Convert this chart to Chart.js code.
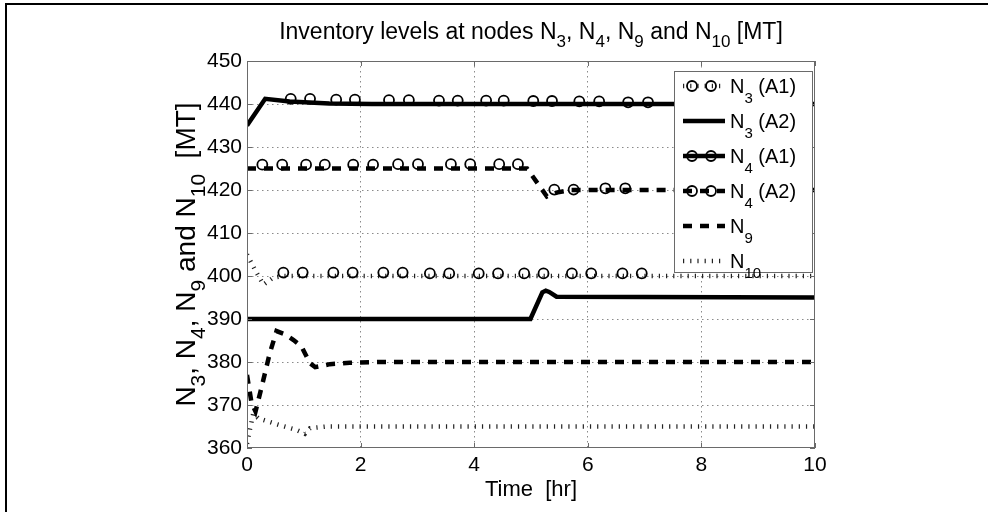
<!DOCTYPE html>
<html>
<head>
<meta charset="utf-8">
<script src="https://cdn.jsdelivr.net/npm/chart.js@4.4.0/dist/chart.umd.min.js"></script>
<style>
  html, body { margin: 0; padding: 0; background: #fff; }
  #wrap { width: 988px; height: 512px; }
</style>
</head>
<body>
<div id="wrap"><canvas id="invChart" width="988" height="512"></canvas></div>
<script>
// values: time [hr], inventory [MT]
const n4A1LineTime = [0, 0.32, 0.75, 1.45, 2.2, 10];
const n4A1LineLevel = [435, 441.2, 440.6, 440.1, 440, 440];
const n4A1MarkTime = [0.77, 1.11, 1.57, 1.90, 2.50, 2.85, 3.38, 3.71, 4.21, 4.52, 5.04, 5.37, 5.85, 6.20, 6.71, 7.06];
const n4A1MarkLevel = [441.2, 441.2, 441.0, 441.0, 440.9, 440.9, 440.8, 440.8, 440.8, 440.8, 440.7, 440.7, 440.6, 440.6, 440.4, 440.4];

const n4A2LineTime = [0, 4.93, 5.28, 5.45, 5.7, 10];
const n4A2LineLevel = [425, 425, 418.5, 419.4, 420, 420];
const n4A2MarkTime = [0.27, 0.62, 1.04, 1.37, 1.87, 2.22, 2.66, 3.01, 3.59, 3.93, 4.44, 4.77, 5.41, 5.75, 6.31, 6.66];
const n4A2MarkLevel = [425.9, 425.9, 425.9, 425.9, 425.9, 425.9, 426, 426, 426, 426, 426, 426, 420.1, 420.1, 420.4, 420.4];

const n3A1LineTime = [0, 0.15, 0.29, 0.46, 0.62, 10];
const n3A1LineLevel = [405, 401.2, 398, 399.6, 400, 400];
const n3A1MarkTime = [0.64, 0.98, 1.52, 1.86, 2.40, 2.74, 3.22, 3.56, 4.08, 4.42, 4.88, 5.22, 5.72, 6.06, 6.61, 6.95];
const n3A1MarkLevel = [400.8, 400.8, 400.8, 400.8, 400.8, 400.8, 400.6, 400.6, 400.6, 400.6, 400.6, 400.6, 400.6, 400.6, 400.6, 400.6];

const n3A2Time = [0, 4.99, 5.20, 5.26, 5.32, 5.45, 10];
const n3A2Level = [390, 390, 396.2, 396.6, 396.3, 395.2, 395];

const n9Time = [0, 0.08, 0.15, 0.26, 0.40, 0.52, 0.66, 0.82, 0.96, 1.11, 1.20, 1.46, 1.81, 2.3, 10];
const n9Level = [377, 370.5, 368.5, 374.3, 382, 387.2, 386.5, 385.1, 383.6, 379.7, 378.8, 379.5, 379.8, 380, 380];

const n10Time = [0, 0.11, 0.2, 0.58, 0.87, 1.02, 1.11, 1.4, 10];
const n10Level = [361, 368, 366.9, 365.3, 364.2, 363.3, 364.6, 365, 365];

const xTicks = [0, 2, 4, 6, 8, 10];
const yTicks = [360, 370, 380, 390, 400, 410, 420, 430, 440, 450];

const chartTitle = 'Inventory levels at nodes N_3, N_4, N_9 and N_{10} [MT]';
const xTitle = 'Time  [hr]';
const yTitle = 'N_3, N_4, N_9 and N_{10}  [MT]';

const FONT = '"Liberation Sans", Arial, sans-serif';
const SOLID = [];
const DASHED = [9, 8];
const DOTTED = [1.2, 6];

function pts(t, v) {
  return t.map((x, i) => ({ x: x, y: v[i] }));
}

function lineSet(label, t, v, dash, width, color) {
  return {
    label: label, data: pts(t, v), borderColor: color || '#000', borderWidth: width,
    borderDash: dash, borderCapStyle: 'butt', pointRadius: 0, tension: 0, fill: false
  };
}

function markSet(label, t, v) {
  return {
    label: label, data: pts(t, v), showLine: false, pointStyle: 'circle',
    pointRadius: 5, pointBorderWidth: 1.8, pointBorderColor: '#000',
    pointBackgroundColor: 'rgba(0,0,0,0)', borderColor: '#000'
  };
}

const datasets = [
  markSet('N4 (A1) marks', n4A1MarkTime, n4A1MarkLevel),
  lineSet('N4 (A1)', n4A1LineTime, n4A1LineLevel, SOLID, 4.5),
  markSet('N4 (A2) marks', n4A2MarkTime, n4A2MarkLevel),
  lineSet('N4 (A2)', n4A2LineTime, n4A2LineLevel, DASHED, 4.5),
  markSet('N3 (A1) marks', n3A1MarkTime, n3A1MarkLevel),
  lineSet('N3 (A1)', n3A1LineTime, n3A1LineLevel, DOTTED, 4.5, '#222'),
  lineSet('N3 (A2)', n3A2Time, n3A2Level, SOLID, 4.5),
  lineSet('N9', n9Time, n9Level, DASHED, 4.5),
  lineSet('N10', n10Time, n10Level, DOTTED, 4.5, '#222')
];

// legend rows: text, line dataset, marker dataset (or null)
const legendRows = [
  { text: 'N_3 (A1)', line: 5, mark: 4 },
  { text: 'N_3 (A2)', line: 6, mark: null },
  { text: 'N_4 (A1)', line: 1, mark: 0 },
  { text: 'N_4 (A2)', line: 3, mark: 2 },
  { text: 'N_9', line: 7, mark: null },
  { text: 'N_{10}', line: 8, mark: null }
];

// tiny TeX-ish subscript support: N_3, N_{10}
function splitTex(str) {
  const parts = [];
  const re = /_\{([^}]*)\}|_(.)/g;
  let last = 0, m;
  while ((m = re.exec(str))) {
    if (m.index > last) parts.push({ t: str.slice(last, m.index), sub: false });
    parts.push({ t: m[1] !== undefined ? m[1] : m[2], sub: true });
    last = re.lastIndex;
  }
  if (last < str.length) parts.push({ t: str.slice(last), sub: false });
  return parts;
}

function drawTex(ctx, str, x, y, size, align, subDrop) {
  const parts = splitTex(str);
  const subSize = Math.round(size * 0.74);
  let w = 0;
  parts.forEach(p => {
    ctx.font = (p.sub ? subSize : size) + 'px ' + FONT;
    p.w = ctx.measureText(p.t).width;
    w += p.w;
  });
  let cx = align === 'left' ? x : x - w / 2;
  ctx.textAlign = 'left';
  ctx.textBaseline = 'alphabetic';
  ctx.fillStyle = '#000';
  parts.forEach(p => {
    ctx.font = (p.sub ? subSize : size) + 'px ' + FONT;
    ctx.fillText(p.t, cx, p.sub ? y + size * subDrop : y);
    cx += p.w;
  });
}

const figurePlugin = {
  id: 'figure',
  beforeDraw(chart) {
    const ctx = chart.ctx;
    ctx.save();
    ctx.fillStyle = '#fff';
    ctx.fillRect(0, 0, chart.width, chart.height);
    // figure frame (top and left edges only)
    ctx.fillStyle = '#000';
    ctx.fillRect(5, 3, chart.width - 5, 2);
    ctx.fillRect(5, 3, 2, chart.height - 3);
    ctx.restore();
  },
  afterDraw(chart) {
    const ctx = chart.ctx;
    const a = chart.chartArea;
    const xs = chart.scales.x, ys = chart.scales.y;
    ctx.save();
    // axes box with inward ticks
    ctx.strokeStyle = '#6a6a6a';
    ctx.lineWidth = 1;
    ctx.strokeRect(a.left + 0.5, a.top + 0.5, a.right - a.left - 1, a.bottom - a.top - 1);
    ctx.beginPath();
    xTicks.forEach(t => {
      const px = Math.round(xs.getPixelForValue(t)) + 0.5;
      ctx.moveTo(px, a.bottom); ctx.lineTo(px, a.bottom - 5);
      ctx.moveTo(px, a.top); ctx.lineTo(px, a.top + 5);
    });
    yTicks.forEach(v => {
      const py = Math.round(ys.getPixelForValue(v)) + 0.5;
      ctx.moveTo(a.left, py); ctx.lineTo(a.left + 5, py);
      ctx.moveTo(a.right, py); ctx.lineTo(a.right - 5, py);
    });
    ctx.stroke();

    // legend
    const bx = 674, by = 71, bw = 138, bh = 201;
    ctx.fillStyle = '#fff';
    ctx.fillRect(bx, by, bw, bh);
    ctx.strokeStyle = '#6a6a6a';
    ctx.strokeRect(bx + 0.5, by + 0.5, bw, bh);
    legendRows.forEach((row, i) => {
      const y = by + 15 + i * 35;
      const ds = chart.data.datasets[row.line];
      ctx.save();
      ctx.strokeStyle = ds.borderColor;
      ctx.lineWidth = ds.borderWidth;
      ctx.setLineDash(ds.borderDash);
      ctx.lineCap = 'butt';
      ctx.beginPath();
      ctx.moveTo(683, y); ctx.lineTo(725, y);
      ctx.stroke();
      ctx.restore();
      if (row.mark !== null) {
        const ms = chart.data.datasets[row.mark];
        ctx.save();
        ctx.strokeStyle = '#000';
        ctx.lineWidth = ms.pointBorderWidth;
        [692, 711].forEach(cx => {
          ctx.beginPath();
          ctx.arc(cx, y, ms.pointRadius, 0, Math.PI * 2);
          ctx.stroke();
        });
        ctx.restore();
      }
      drawTex(ctx, row.text, 730, y + 7, 20, 'left', 0.48);
    });

    // title and axis titles
    const midX = (a.left + a.right) / 2;
    drawTex(ctx, chartTitle, midX, 39, 23, 'center', 0.36);
    drawTex(ctx, xTitle, midX, 496, 22, 'center', 0.36);
    ctx.translate(195, (a.top + a.bottom) / 2);
    ctx.rotate(-Math.PI / 2);
    drawTex(ctx, yTitle, 0, 0, 28, 'center', 0.36);
    ctx.restore();
  }
};

const gridColor = (ctx) => {
  const v = ctx.tick ? ctx.tick.value : null;
  return (v === 0 || v === 10 || v === 360 || v === 450) ? 'rgba(0,0,0,0)' : '#8a8a8a';
};

new Chart(document.getElementById('invChart').getContext('2d'), {
  type: 'line',
  data: { datasets: datasets },
  options: {
    responsive: false,
    animation: false,
    events: [],
    layout: { padding: { left: 0, top: 61, right: 173, bottom: 0 } },
    plugins: { legend: { display: false }, title: { display: false }, tooltip: { enabled: false } },
    scales: {
      x: {
        type: 'linear', min: 0, max: 10,
        afterFit: s => { s.height = 64; },
        afterBuildTicks: s => { s.ticks = xTicks.map(v => ({ value: v })); },
        ticks: { padding: 5, maxRotation: 0, color: '#000', font: { family: FONT, size: 21 } },
        grid: { color: gridColor, drawTicks: false, lineWidth: 1 },
        border: { display: false, dash: [1.5, 3.5] }
      },
      y: {
        type: 'linear', min: 360, max: 450,
        afterFit: s => { s.width = 247; },
        afterBuildTicks: s => { s.ticks = yTicks.map(v => ({ value: v })); },
        ticks: { padding: 5, color: '#000', font: { family: FONT, size: 21 } },
        grid: { color: gridColor, drawTicks: false, lineWidth: 1 },
        border: { display: false, dash: [1.5, 3.5] }
      }
    }
  },
  plugins: [figurePlugin]
});
</script>
</body>
</html>
